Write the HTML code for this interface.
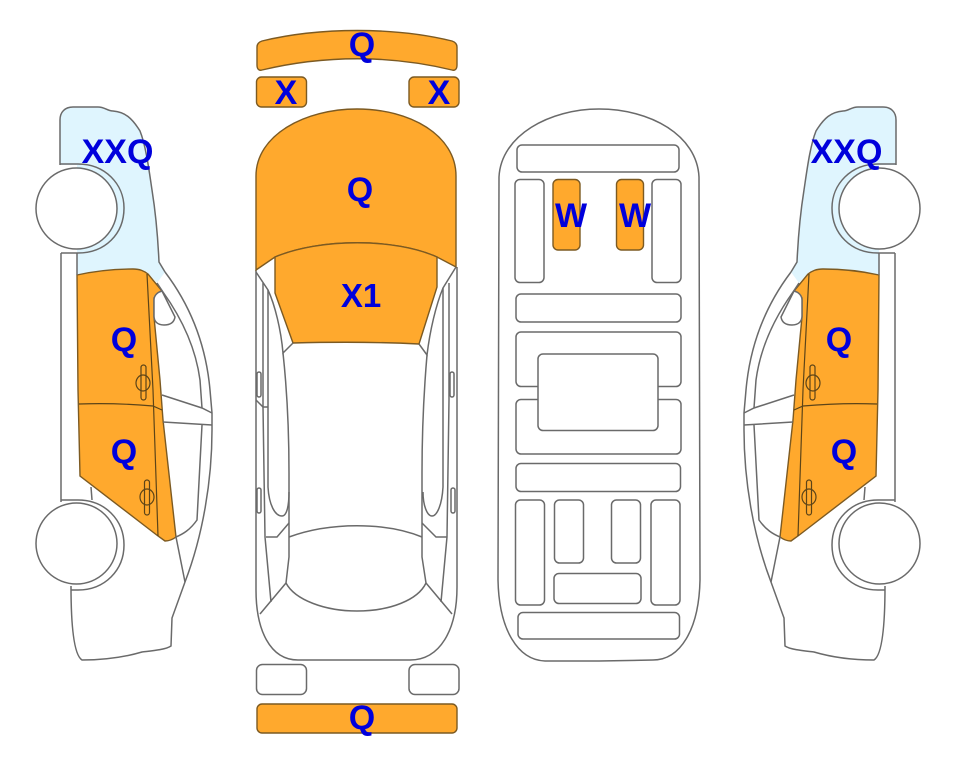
<!DOCTYPE html>
<html><head><meta charset="utf-8"><style>
html,body{margin:0;padding:0;background:#fff}
svg{display:block}
.l{fill:none;stroke:#6a6a6a;stroke-width:1.5}
.w{fill:#fff;stroke:#6a6a6a;stroke-width:1.5}
.o{fill:#FFA92D;stroke:#7c5a22;stroke-width:1.4}
.d{fill:none;stroke:#5c4418;stroke-width:1.2}
text{font-family:"Liberation Sans",sans-serif;font-weight:bold;font-size:34px;fill:#0000DC;text-anchor:middle}
</style></head><body>
<svg width="963" height="768" viewBox="0 0 963 768" xmlns="http://www.w3.org/2000/svg">
<defs>
<g id="side">
<path d="M60 165V120C60 112 65 107 73 107H98C105 107 107 111 113 111C125 112 132 118 140 131C146 146 149 170 152 190C156 215 158 240 159 262L165 272L157 283L147 272C142 270 137 269 130 269L77 275V165Z" fill="#DFF5FE" stroke="none"/>
<path class="l" d="M60 165V120C60 112 65 107 73 107H98C105 107 107 111 113 111C125 112 132 118 140 131C146 146 149 170 152 190C156 215 158 240 159 262L165 272"/>
<path class="o" d="M77 275C95 271 115 269 133 269C140 269 144 271 148 274L162 291L154 298V317L160 380L163 420L176 537C172 540 168 541 165 541L158 536L80 476L78 390Z"/>
<path class="d" d="M147 274L153 390L158 536M79 404C105 403 130 404 153 406L162 410"/>
<rect class="d" x="141" y="365" width="5" height="35" rx="2.5"/><ellipse class="d" cx="143" cy="383" rx="7" ry="8"/>
<rect class="d" x="144.500" y="480" width="5" height="35" rx="2.500"/><ellipse class="d" cx="147" cy="497" rx="7" ry="8"/>
<path class="w" d="M162 291L175 317C174 323 170 325 164 325C157 325 154 321 154 316V300C154 295 158 292 162 291Z"/>
<path class="l" d="M165 272C190 305 206 345 210 390L212 413L212 430C212 480 203 535 185 582L172 618L171 646C165 650 150 651 142 652C125 657 105 660 82 660C74 655 71 625 71 586"/>
<path class="l" d="M157 283L163 292C183 320 196 350 200 380L202 408M162 395L202 408L212 413M163 422L212 425M202 425L197 520C190 530 183 534 176 537L185 582"/>
<path class="l" d="M61 253V502M77 253V275M91 487L92 500"/>
<path class="l" d="M60 164H78C105 164 124 184 124 208C124 234 105 253 78 253H61"/>
<path class="l" d="M61 500H78C105 500 124 520 124 545C124 570 105 590 78 590H71"/>
<circle class="w" cx="76.500" cy="208.500" r="40.500"/>
<circle class="w" cx="76.500" cy="543.500" r="40.500"/>
</g>
</defs>
<use href="#side"/>
<use href="#side" transform="translate(956 0) scale(-1 1)"/>

<path class="o" d="M262 41C320 27 395 27 452 41C455 42 457 44 457 47V65C457 69 455 71 452 70C390 55 325 55 262 70C259 71 257 69 257 65V47C257 44 259 42 262 41Z"/>
<rect class="o" x="256.500" y="77" width="50" height="30" rx="5"/>
<rect class="o" x="409" y="77" width="50" height="30" rx="5"/>
<path class="l" d="M256 270V590C256 630 270 660 298 660H410C440 660 457 630 457 587V267"/>
<path class="o" d="M256 270V176C256 135 305 109 357 109C410 109 456 135 456 176V267L437 257C395 238 320 238 275 257Z"/>
<path class="o" d="M275 257C320 238 395 238 437 257V287L419 344C380 342 330 342 293 343L275 293Z" stroke="#6d6347"/>
<path class="l" d="M256 272L268 290C275 305 281 330 283 353L293 343M456 267L443 288C436 305 430 330 427 355L419 344"/>
<path class="l" d="M263 283V407L265 537L271 602M268 290V487C269 505 275 516 282 516C287 516 289 505 289 492M443 288V487C442 505 437 516 432 516C427 516 423 505 423 492M449 283V400L447 537L441 602"/>
<path class="l" d="M283 353C287 390 289 430 289 473V557L286 583M427 355C424 390 422 430 422 473V557L426 583"/>
<path class="l" d="M286 583C295 600 325 611 357 611C390 611 418 600 426 583M289 537C330 522 385 522 422 537M266 537H277L289 523M422 523L436 537H447M260 614L286 583M452 614L426 583M256 400L263 407H268"/>
<rect class="l" x="257" y="372" width="4" height="25" rx="2"/><rect class="l" x="450" y="372" width="4" height="25" rx="2"/>
<rect class="l" x="257" y="488" width="4" height="25" rx="2"/><rect class="l" x="451" y="488" width="4" height="25" rx="2"/>
<rect class="l" x="256.500" y="664.500" width="50" height="30" rx="6"/>
<rect class="l" x="409" y="664.500" width="50" height="30" rx="6"/>
<rect class="o" x="257" y="704" width="200" height="29" rx="5"/>

<path class="l" d="M499 177C501 135 550 109 599 109C650 109 697 135 699 177L700 580C699 630 680 660 653 660L599 661H545C518 660 499 630 498 580Z"/>
<g>
<rect class="l" x="517" y="145" width="162" height="27" rx="5"/>
<rect class="l" x="515" y="179.500" width="29" height="103" rx="5"/>
<rect class="l" x="652" y="179.500" width="29" height="103" rx="5"/>
<rect class="o" x="553" y="179.500" width="27" height="70.500" rx="5"/>
<rect class="o" x="616.500" y="179.500" width="27" height="70.500" rx="5"/>
<rect class="l" x="516" y="294" width="165" height="28" rx="5"/>
<rect class="l" x="516" y="332" width="165" height="54.500" rx="5"/>
<rect class="l" x="516" y="399.500" width="165" height="54.500" rx="5"/>
<rect class="w" x="538" y="354" width="120" height="76.500" rx="5"/>
<rect class="l" x="516" y="463.500" width="164.500" height="28" rx="5"/>
<rect class="l" x="515.500" y="500" width="29" height="105" rx="5"/>
<rect class="l" x="554.500" y="500" width="29" height="63" rx="5"/>
<rect class="l" x="611.500" y="500" width="29" height="63" rx="5"/>
<rect class="l" x="651" y="500" width="29" height="105" rx="5"/>
<rect class="l" x="554" y="573.500" width="87" height="30" rx="5"/>
<rect class="l" x="518" y="612.500" width="161.500" height="26.500" rx="5"/>
</g>

<text x="117.500" y="163">XXQ</text>
<text x="124" y="351">Q</text>
<text x="124" y="463">Q</text>
<text x="362" y="56">Q</text>
<text x="286" y="104">X</text>
<text x="439" y="104">X</text>
<text x="360" y="201">Q</text>
<text x="361" y="307" style="font-size:33px">X1</text>
<text x="362" y="729">Q</text>
<text x="571" y="227">W</text>
<text x="635" y="227">W</text>
<text x="846.500" y="163">XXQ</text>
<text x="839" y="351">Q</text>
<text x="844" y="463">Q</text>
</svg>
</body></html>
